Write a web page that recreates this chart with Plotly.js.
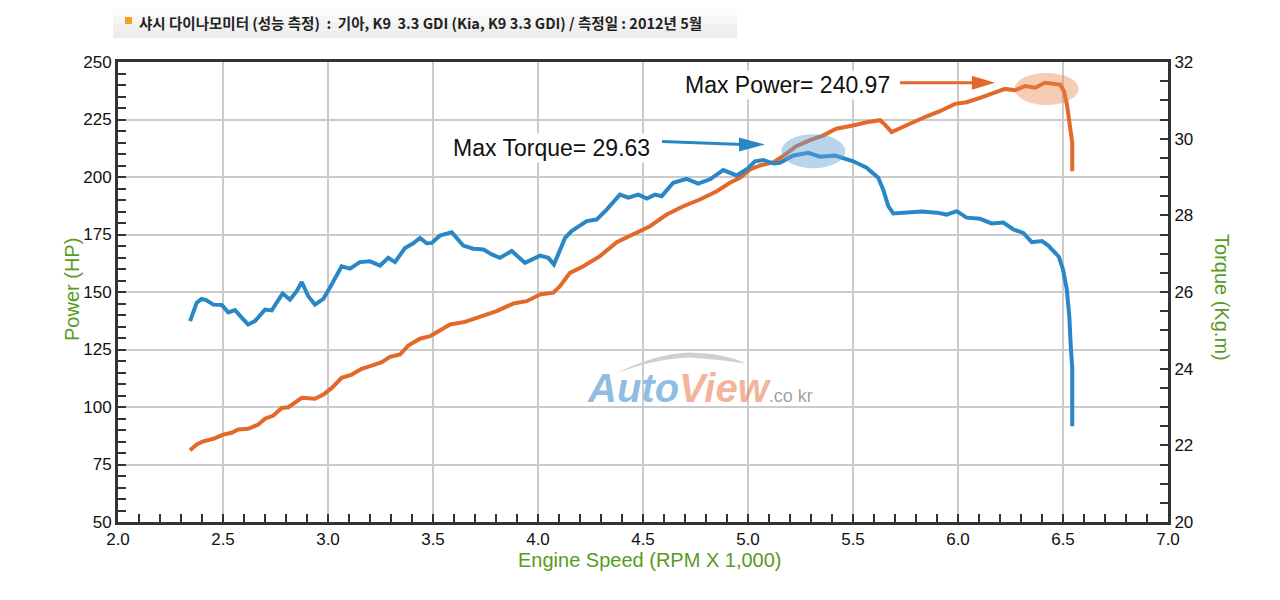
<!DOCTYPE html>
<html>
<head>
<meta charset="utf-8">
<script src="https://cdn.plot.ly/plotly-3.0.1.min.js"></script>
<style>
  html, body { margin: 0; padding: 0; background: #fff; }
  #chart { width: 1280px; height: 600px; }
</style>
</head>
<body>
<div id="chart"></div>
<script>
// 토크 곡선 (Kg.m, 오른쪽 축)
const torqueRpm = [2.343, 2.375, 2.398, 2.42, 2.454, 2.494, 2.525, 2.557, 2.589, 2.62, 2.652, 2.70, 2.732, 2.756, 2.784, 2.819, 2.851, 2.875, 2.906, 2.938, 2.978, 3.018, 3.065, 3.105, 3.152, 3.2, 3.248, 3.287, 3.319, 3.367, 3.406, 3.438, 3.47, 3.494, 3.533, 3.589, 3.644, 3.692, 3.74, 3.78, 3.819, 3.875, 3.938, 4.01, 4.049, 4.076, 4.129, 4.16, 4.232, 4.279, 4.327, 4.39, 4.43, 4.478, 4.518, 4.557, 4.589, 4.644, 4.708, 4.763, 4.819, 4.882, 4.946, 4.994, 5.033, 5.073, 5.121, 5.152, 5.216, 5.287, 5.343, 5.414, 5.454, 5.501, 5.565, 5.62, 5.644, 5.668, 5.692, 5.756, 5.827, 5.899, 5.946, 5.994, 6.041, 6.105, 6.16, 6.216, 6.264, 6.311, 6.351, 6.40, 6.43, 6.48, 6.50, 6.518, 6.53, 6.537, 6.544, 6.544];
const torqueKgm = [25.24, 25.72, 25.82, 25.79, 25.67, 25.66, 25.47, 25.53, 25.33, 25.15, 25.24, 25.54, 25.52, 25.72, 25.96, 25.80, 26.02, 26.26, 25.89, 25.67, 25.82, 26.20, 26.67, 26.61, 26.78, 26.80, 26.69, 26.89, 26.78, 27.15, 27.27, 27.41, 27.27, 27.28, 27.47, 27.56, 27.21, 27.13, 27.11, 26.98, 26.89, 27.07, 26.76, 26.95, 26.89, 26.72, 27.41, 27.59, 27.85, 27.89, 28.15, 28.54, 28.46, 28.54, 28.44, 28.54, 28.50, 28.85, 28.95, 28.83, 28.94, 29.18, 29.04, 29.20, 29.41, 29.44, 29.35, 29.37, 29.56, 29.63, 29.53, 29.56, 29.50, 29.41, 29.24, 28.98, 28.67, 28.24, 28.05, 28.08, 28.10, 28.07, 28.02, 28.11, 27.94, 27.91, 27.79, 27.81, 27.63, 27.54, 27.30, 27.33, 27.21, 26.92, 26.59, 26.07, 25.37, 24.59, 24.02, 22.50];

// 출력 곡선 (HP, 왼쪽 축)
const powerRpm = [2.343, 2.375, 2.406, 2.454, 2.501, 2.541, 2.573, 2.62, 2.668, 2.70, 2.74, 2.78, 2.811, 2.843, 2.875, 2.938, 2.978, 3.018, 3.065, 3.113, 3.16, 3.208, 3.256, 3.295, 3.343, 3.382, 3.438, 3.486, 3.533, 3.581, 3.652, 3.72, 3.803, 3.883, 3.946, 4.01, 4.073, 4.105, 4.152, 4.216, 4.295, 4.375, 4.454, 4.533, 4.613, 4.692, 4.771, 4.851, 4.914, 4.962, 5.01, 5.057, 5.121, 5.17, 5.23, 5.295, 5.357, 5.42, 5.50, 5.565, 5.629, 5.652, 5.684, 5.724, 5.787, 5.851, 5.914, 5.986, 6.041, 6.105, 6.168, 6.224, 6.271, 6.319, 6.367, 6.414, 6.454, 6.486, 6.505, 6.52, 6.533, 6.544, 6.544];
const powerHp = [81.2, 83.7, 85.1, 86.2, 88.0, 88.8, 90.2, 90.5, 92.4, 94.9, 96.3, 99.6, 99.9, 101.8, 104.0, 103.6, 105.4, 108.3, 112.7, 114.1, 116.6, 118.0, 119.5, 121.8, 122.8, 126.7, 129.7, 130.8, 133.5, 135.9, 137.0, 139.1, 141.7, 145.0, 146.0, 148.9, 149.7, 152.5, 158.3, 161.2, 165.6, 171.7, 175.0, 178.6, 183.7, 187.3, 190.2, 193.8, 197.5, 199.7, 203.3, 205.0, 206.4, 209.3, 213.4, 216.0, 218.0, 221.0, 222.4, 223.8, 224.7, 222.8, 219.5, 221.0, 223.8, 226.4, 228.6, 231.8, 232.5, 234.4, 236.3, 238.3, 237.7, 239.5, 238.8, 241.0, 240.5, 240.2, 237.3, 230.8, 222.1, 214.9, 202.5];

const headerText = "샤시 다이나모미터 (성능 측정)  :  기아, K9  3.3 GDI (Kia, K9 3.3 GDI) / 측정일 : 2012년 5월";
const maxTorqueLabel = "Max Torque= 29.63";
const maxPowerLabel = "Max Power= 240.97";

const blue = "#2a87c6";
const orange = "#e2692a";
const green = "#5a9a1e";
const frame = "#333333";

// 플롯 영역 픽셀 -> paper 좌표
const L = 118, R = 1168, T = 62, B = 522;
const px = (x) => (x - L) / (R - L);
const py = (y) => (B - y) / (B - T);

const tickFont = { family: "Liberation Sans, Arial", size: 17, color: "#111" };
const titleFont = { family: "Liberation Sans, Arial", size: 20, color: green };

const traces = [
  {
    x: powerRpm, y: powerHp, type: "scatter", mode: "lines", yaxis: "y",
    line: { color: orange, width: 4 }, hoverinfo: "x+y", name: "Power",
  },
  {
    x: torqueRpm, y: torqueKgm, type: "scatter", mode: "lines", yaxis: "y2",
    line: { color: blue, width: 4 }, hoverinfo: "x+y", name: "Torque",
  },
];

// 헤더 배경 (세로 그라데이션 흉내)
const headerBands = ["#fbfbfb", "#f6f6f6", "#f1f1f1", "#ececec"].map((c, i) => ({
  type: "rect", xref: "paper", yref: "paper",
  x0: px(113), x1: px(737), y0: py(8 + (i + 1) * 7.5), y1: py(8 + i * 7.5),
  fillcolor: c, line: { width: 0 }, layer: "below",
}));

const layout = {
  width: 1280,
  height: 600,
  margin: { l: L, r: 1280 - R, t: T, b: 600 - B },
  showlegend: false,
  paper_bgcolor: "#fff",
  plot_bgcolor: "#fff",
  xaxis: {
    range: [2, 7], dtick: 0.5, tick0: 2, tickformat: ".1f",
    showgrid: true, gridcolor: "#cbcbcb", gridwidth: 2, zeroline: false,
    showline: true, linecolor: frame, linewidth: 3, mirror: true,
    ticks: "inside", ticklen: 8, tickwidth: 2, tickcolor: frame,
    minor: { dtick: 0.1, ticks: "inside", ticklen: 8, tickwidth: 2, tickcolor: frame, showgrid: false },
    tickfont: tickFont, fixedrange: true,
  },
  yaxis: {
    range: [50, 250], dtick: 25, tick0: 50,
    showgrid: true, gridcolor: "#cbcbcb", gridwidth: 2, zeroline: false,
    showline: true, linecolor: frame, linewidth: 3, mirror: true,
    ticks: "inside", ticklen: 8, tickwidth: 2, tickcolor: frame,
    minor: { dtick: 5, ticks: "inside", ticklen: 8, tickwidth: 2, tickcolor: frame, showgrid: false },
    tickfont: tickFont, fixedrange: true,
  },
  yaxis2: {
    overlaying: "y", side: "right", range: [20, 32], dtick: 2, tick0: 20,
    showgrid: false, zeroline: false,
    showline: true, linecolor: frame, linewidth: 3,
    ticks: "inside", ticklen: 8, tickwidth: 2, tickcolor: frame,
    minor: { dtick: 0.5, ticks: "inside", ticklen: 8, tickwidth: 2, tickcolor: frame, showgrid: false },
    tickfont: tickFont, fixedrange: true,
  },
  shapes: [
    ...headerBands,
    { type: "rect", xref: "paper", yref: "paper", x0: px(125), x1: px(132), y0: py(24), y1: py(17),
      fillcolor: "#f5a21f", line: { width: 0 } },
    // 최대 토크 강조 타원
    { type: "circle", xref: "x", yref: "y", xsizemode: "pixel", ysizemode: "pixel",
      xanchor: 5.311, yanchor: 211.2, x0: -32, x1: 32, y0: -17, y1: 17,
      fillcolor: "rgba(100,160,215,0.45)", line: { width: 0 }, layer: "above" },
    // 최대 출력 강조 타원
    { type: "circle", xref: "x", yref: "y", xsizemode: "pixel", ysizemode: "pixel",
      xanchor: 6.422, yanchor: 238.3, x0: -32, x1: 32, y0: -16, y1: 16,
      fillcolor: "rgba(230,130,70,0.4)", line: { width: 0 }, layer: "above" },
    // 토크 화살표
    { type: "line", xref: "x", yref: "y", xsizemode: "pixel", ysizemode: "pixel",
      xanchor: 5.081, yanchor: 214.1, x0: -103, y0: 3, x1: -22, y1: 0,
      line: { color: blue, width: 3 } },
    { type: "path", xref: "x", yref: "y", xsizemode: "pixel", ysizemode: "pixel",
      xanchor: 5.081, yanchor: 214.1, path: "M0,0 L-26,7 L-26,-7 Z",
      fillcolor: blue, line: { width: 0 } },
    // 출력 화살표
    { type: "line", xref: "x", yref: "y", xsizemode: "pixel", ysizemode: "pixel",
      xanchor: 6.176, yanchor: 240.96, x0: -95, y0: 0, x1: -20, y1: 0,
      line: { color: orange, width: 3 } },
    { type: "path", xref: "x", yref: "y", xsizemode: "pixel", ysizemode: "pixel",
      xanchor: 6.176, yanchor: 240.96, path: "M0,0 L-23,7 L-23,-7 Z",
      fillcolor: orange, line: { width: 0 } },
    // 워터마크 지붕선
    { type: "path", xref: "x", yref: "y", xsizemode: "pixel", ysizemode: "pixel",
      xanchor: 4.676, yanchor: 120.65,
      path: "M-64,-14 Q-25,6 10,7 Q45,6 66,-4 Q40,0 10,2 Q-25,1 -64,-14 Z",
      fillcolor: "rgba(170,170,170,0.55)", line: { width: 0 }, layer: "below" },
  ],
  annotations: [
    { xref: "paper", yref: "paper", x: px(137), y: py(22), xanchor: "left", yanchor: "middle",
      text: "<b>" + headerText + "</b>", showarrow: false,
      font: { family: "Noto Sans CJK KR", size: 14.5, color: "#222" } },
    { xref: "x", yref: "y", x: 4.062, y: 212.8, xanchor: "center", yanchor: "middle",
      text: maxTorqueLabel, showarrow: false, bgcolor: "#fff",
      font: { family: "Liberation Sans, Arial", size: 23, color: "#111" } },
    { xref: "x", yref: "y", x: 5.186, y: 239.8, xanchor: "center", yanchor: "middle",
      text: maxPowerLabel, showarrow: false, bgcolor: "#fff",
      font: { family: "Liberation Sans, Arial", size: 23, color: "#111" } },
    { xref: "paper", yref: "paper", x: px(650), y: py(560), xanchor: "center", yanchor: "middle",
      text: "Engine Speed (RPM X 1,000)", showarrow: false, font: titleFont },
    { xref: "paper", yref: "paper", x: px(72), y: py(290), xanchor: "center", yanchor: "middle",
      text: "Power (HP)", textangle: -90, showarrow: false, font: titleFont },
    { xref: "paper", yref: "paper", x: px(1222), y: py(297), xanchor: "center", yanchor: "middle",
      text: "Torque (Kg.m)", textangle: 90, showarrow: false, font: titleFont },
    // 워터마크
    { xref: "paper", yref: "paper", x: px(585), y: py(388), xanchor: "left", yanchor: "middle",
      showarrow: false,
      text: "<b><i><span style='color:rgba(95,160,215,0.7)'>Auto</span><span style='color:rgba(235,130,90,0.6)'>View</span></i></b><span style='font-size:18px;color:rgba(120,120,120,0.7)'>.co kr</span>",
      font: { family: "Liberation Sans, Arial", size: 40 } },
  ],
};

Plotly.newPlot("chart", traces, layout, { displayModeBar: false, staticPlot: true });
</script>
</body>
</html>
